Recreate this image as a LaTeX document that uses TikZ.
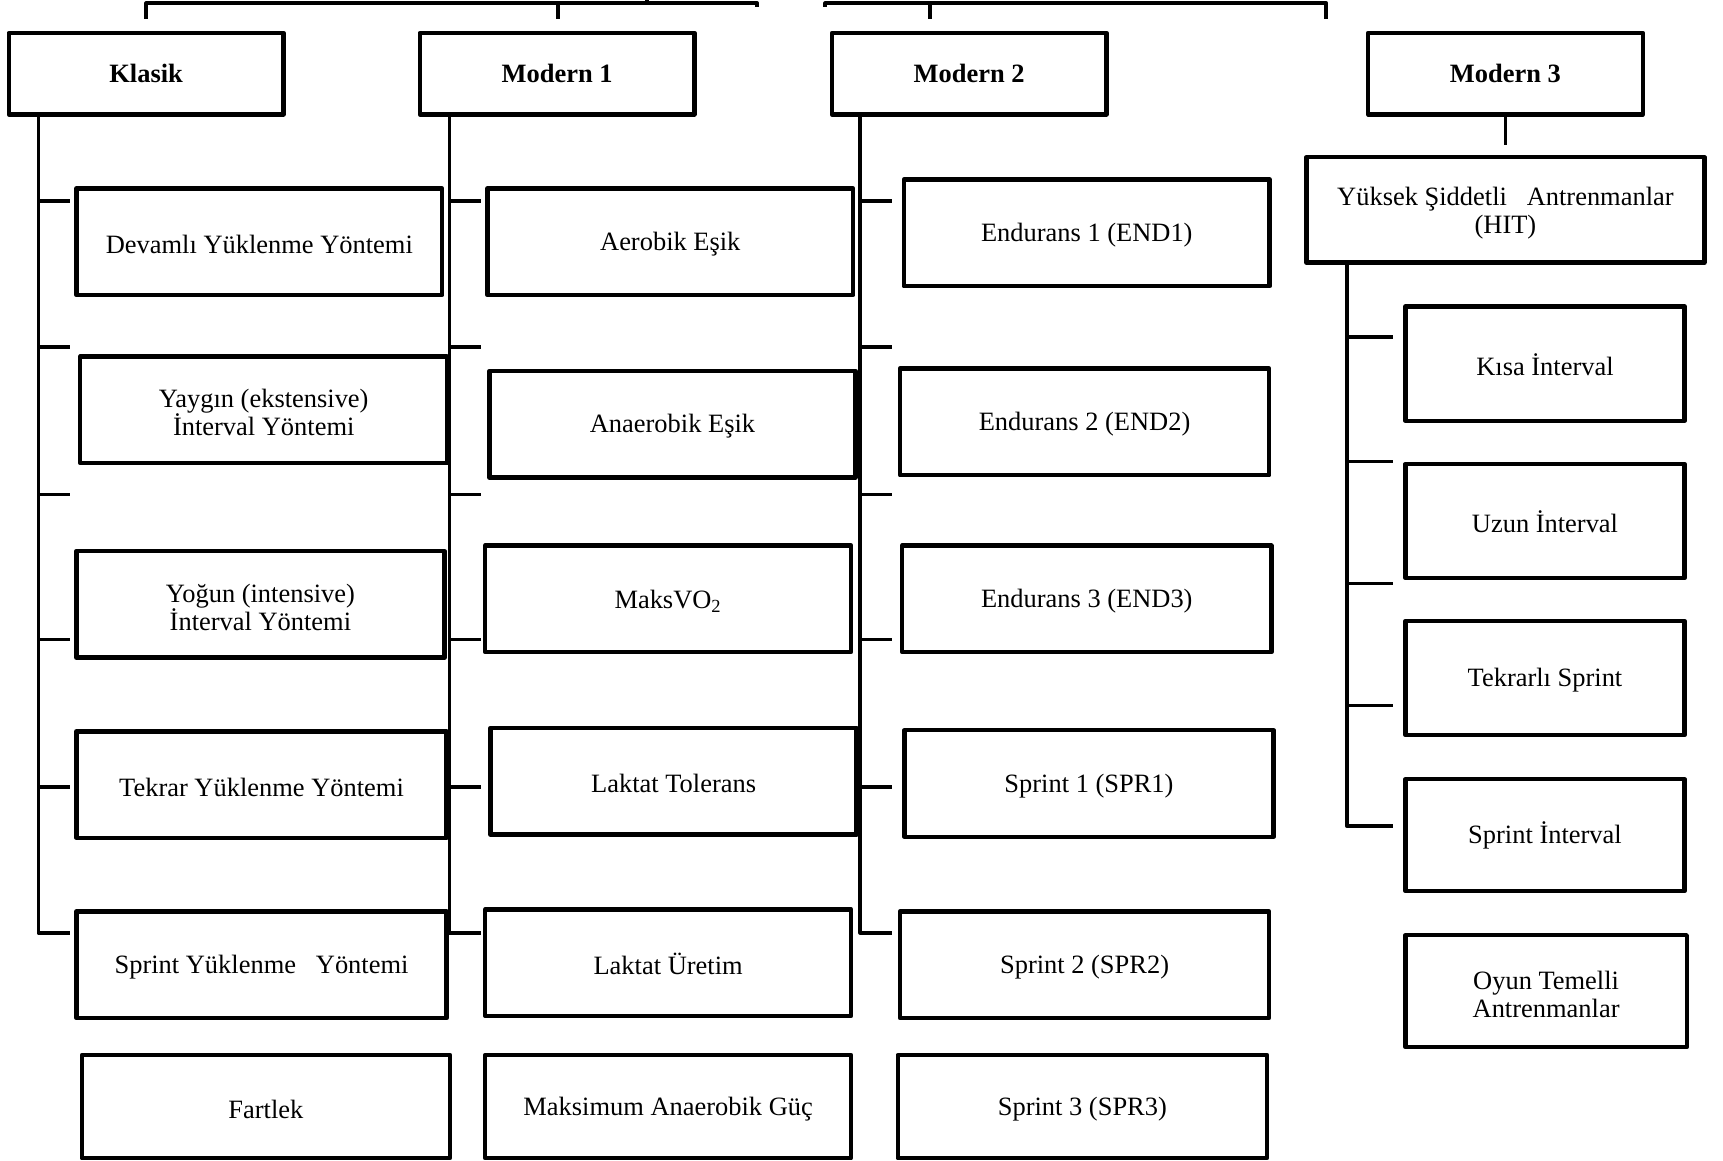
\documentclass[tikz,border=0pt]{standalone}
\usepackage{fontspec}
\setmainfont{Liberation Serif}
\usetikzlibrary{calc}
\newcommand\liftline{\rule{0pt}{12.5pt}}

\begin{document}
\begin{tikzpicture}[
    x=0.02cm, y=-0.02cm,
    base/.style={rectangle,draw,line width=2.3pt,line join=round,minimum width=6.66cm,minimum height=1.94cm,inner sep=2pt,align=center,font=\fontsize{13.7}{14.5}\selectfont},
    box/.style={base,execute at begin node={\rule{0pt}{12pt}}},
    head/.style={base,minimum width=5cm,minimum height=1.48cm,font=\fontsize{13.7}{14.5}\selectfont\bfseries},
    sub/.style={box,minimum width=5.08cm,minimum height=2.08cm},
    link/.style={line width=2pt,line join=round}]
  \useasboundingbox (0,0) rectangle (1568,1056);
  % ---- headers ----
  \node[head] (kl)  at (133,67)  {Klasik};
  \node[head] (mo1) at (507,67)  {Modern 1};
  \node[head] (mo2) at (882,67)  {Modern 2};
  \node[head] (mo3) at (1370,67) {Modern 3};
  % ---- Klasik ----
  \node[box] (k1) at (236,220) {Devamlı Yüklenme Yöntemi};
  \node[base,minimum width=6.68cm] (k2) at (240,373) {\liftline Yaygın (ekstensive)\\İnterval Yöntemi};
  \node[base,minimum width=6.7cm]  (k3) at (237,550) {\liftline Yoğun (intensive)\\İnterval Yöntemi};
  \node[box,minimum width=6.74cm] (k4) at (238,714) {Tekrar Yüklenme Yöntemi};
  \node[box,minimum width=6.74cm] (k5) at (238,878) {Sprint Yüklenme~~~Yöntemi};
  \node[box,minimum width=6.7cm,minimum height=1.88cm] (k6) at (242,1007) {Fartlek};
  % ---- Modern 1 ----
  \node[box] (a1) at (610,220) {Aerobik Eşik};
  \node[box] (a2) at (612,386) {Anaerobik Eşik};
  \node[box] (a3) at (608,545) {MaksVO\textsubscript{2}};
  \node[box] (a4) at (613,711) {Laktat Tolerans};
  \node[box] (a5) at (608,876) {Laktat Üretim};
  \node[box,minimum height=1.88cm] (a6) at (608,1007) {Maksimum Anaerobik Güç};
  % ---- Modern 2 ----
  \node[box] (e1) at (989,212) {Endurans 1 (END1)};
  \node[box,minimum width=6.72cm] (e2) at (987,384) {Endurans 2 (END2)};
  \node[box,minimum width=6.72cm] (e3) at (989,545) {Endurans 3 (END3)};
  \node[box,minimum width=6.72cm] (s1) at (991,713) {Sprint 1 (SPR1)};
  \node[box,minimum width=6.72cm] (s2) at (987,878) {Sprint 2 (SPR2)};
  \node[box,minimum width=6.72cm,minimum height=1.88cm] (s3) at (985,1007) {Sprint 3 (SPR3)};
  % ---- Modern 3 ----
  \node[base,minimum width=7.24cm,minimum height=1.92cm] (hit) at (1370,191) {\liftline Yüksek Şiddetli~~~Antrenmanlar\\(HIT)};
  \node[sub] (h1) at (1406,331) {Kısa İnterval};
  \node[sub] (h2) at (1406,474) {Uzun İnterval};
  \node[sub] (h3) at (1406,617) {Tekrarlı Sprint};
  \node[sub,minimum height=2.04cm] (h4) at (1406,760) {Sprint İnterval};
  \node[base,minimum height=2.04cm,minimum width=5.12cm] (h5) at (1407,902) {\liftline Oyun Temelli\\Antrenmanlar};
  % ---- trunks and stubs ----
  \foreach \hd/\tx in {kl/35,mo1/409,mo2/783}{
    \coordinate (\hd-x) at (\tx,0);
    \draw[link] (\hd.south -| \hd-x) -- (\tx,849) -- ++(29,0);
    \foreach \ty in {183,316,450,582,716}
      \draw[link] (\tx,\ty) -- ++(29,0);
  }
  \draw[link] (mo3.south) -- ++(0,26);
  \coordinate (hit-x) at (1226,0);
  \draw[link] (hit.south -| hit-x) -- (1226,752) -- ++(42,0);
  \foreach \ty in {307,420,531,642}
    \draw[link] (1226,\ty) -- ++(42,0);
  % ---- top brackets (cut off at the page edge) ----
  \draw[link] (133,17) -- (133,3) -- (689,3) -- (689,6);
  \draw[link] (508,3) -- (508,17);
  \draw[link] (589,3) -- (589,-10);
  \draw[link] (751,6) -- (751,3) -- (1207,3) -- (1207,17);
  \draw[link] (846,3) -- (846,17);
\end{tikzpicture}
\end{document}
